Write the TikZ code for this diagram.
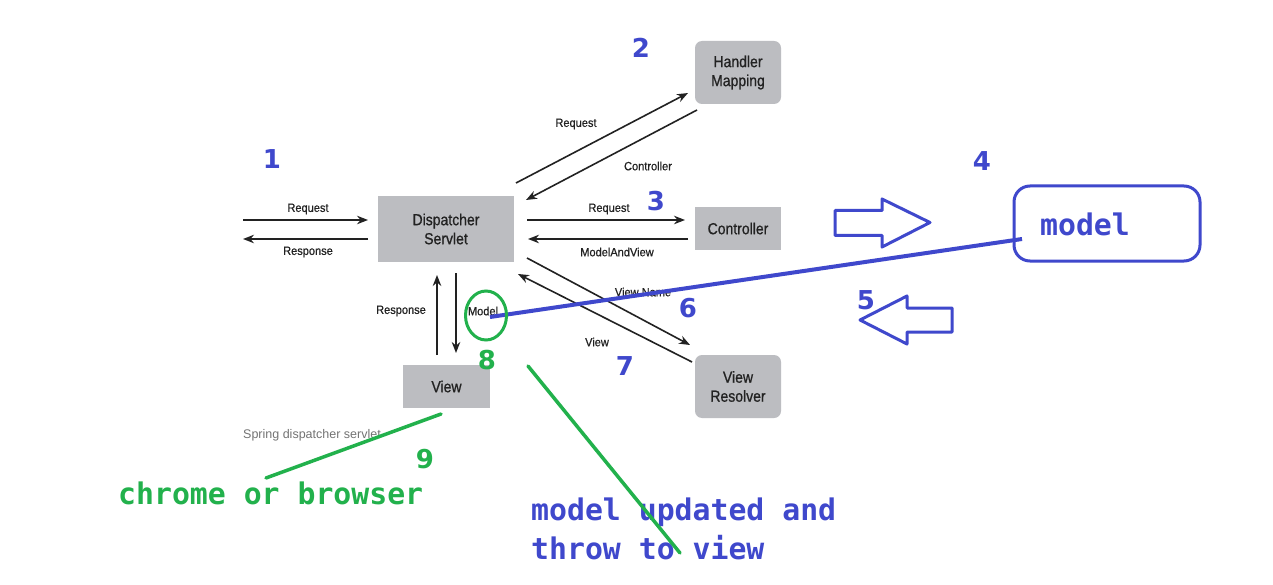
\documentclass[tikz,border=0pt]{standalone}
\usepackage{fontspec}
\setmainfont{Liberation Sans}
\newfontfamily\monof{DejaVu Sans Mono}
\newfontfamily\numf{DejaVu Sans}
\newfontfamily\boxf{Liberation Sans}[FakeStretch=0.875, FakeBold=0.8]
\newfontfamily\lblf{Liberation Sans}[FakeStretch=0.92, FakeBold=0.6]
\usetikzlibrary{arrows.meta,shapes.geometric}
\definecolor{boxgray}{HTML}{BCBDC1}
\definecolor{pblue}{HTML}{3F48CC}
\definecolor{pgreen}{HTML}{22B14C}
\definecolor{txtdark}{HTML}{222222}
\begin{document}
\begin{tikzpicture}[x=1pt,y=-1pt,
  box/.style={fill=boxgray, inner sep=0pt, align=center, text=txtdark,
    font=\boxf\fontsize{16}{19}\selectfont},
  rbox/.style={box, rounded corners=7pt},
  lbl/.style={inner sep=0pt, text=txtdark, font=\lblf\fontsize{12}{14}\selectfont},
  arr/.style={-{Stealth[length=11pt,width=8.5pt]}, line width=1.6pt, txtdark},
  num/.style={inner sep=0pt, text=pblue, font=\numf\bfseries\fontsize{26}{28}\selectfont},
  gnum/.style={num, text=pgreen},
  mono/.style={inner sep=0pt, anchor=west, font=\monof\bfseries\fontsize{29.8}{34}\selectfont},
  bline/.style={draw=pblue, line width=3pt, line join=round},
  gline/.style={draw=pgreen, line width=3.5pt, line cap=round}
]
\useasboundingbox[fill=white] (0,0) rectangle (1273,585);

% boxes
\node[rbox, minimum width=86pt, minimum height=63pt] (hm) at (738,72.5) {Handler\\Mapping};
\node[box, minimum width=136pt, minimum height=66pt] (ds) at (446,229) {Dispatcher\\Servlet};
\node[box, minimum width=86pt, minimum height=43pt] (ctl) at (738,228.5) {Controller};
\node[rbox, minimum width=86pt, minimum height=63pt] (vr) at (738,386.5) {View\\Resolver};
\node[box, minimum width=87pt, minimum height=43pt] (vw) at (446.5,386.5) {View};

% end points of connectors
\coordinate (cin) at (243,220);
\coordinate (cout) at (243,239);
\coordinate (ds-in) at (368,220);
\coordinate (ds-out) at (368,239);
\coordinate (ds-hm1) at (516,183);
\coordinate (hm-1) at (688,93);
\coordinate (hm-2) at (697,110);
\coordinate (ds-hm2) at (526,200);
\coordinate (ds-c1) at (527,220);
\coordinate (c-1) at (685,220);
\coordinate (c-2) at (688,239);
\coordinate (ds-c2) at (528,239);
\coordinate (ds-v1) at (527,258);
\coordinate (vr-1) at (690,345);
\coordinate (vr-2) at (692,362);
\coordinate (ds-v2) at (518,274);
\coordinate (vw-1) at (437,355);
\coordinate (ds-r) at (437,275);
\coordinate (ds-m) at (456,273);
\coordinate (vw-2) at (456,353);

% connectors
\draw[arr] (cin) -- (ds-in);
\draw[arr] (ds-out) -- (cout);
\draw[arr] (ds-hm1) -- (hm-1);
\draw[arr] (hm-2) -- (ds-hm2);
\draw[arr] (ds-c1) -- (c-1);
\draw[arr] (c-2) -- (ds-c2);
\draw[arr] (ds-v1) -- (vr-1);
\draw[arr] (vr-2) -- (ds-v2);
\draw[arr] (vw-1) -- (ds-r);
\draw[arr] (ds-m) -- (vw-2);

% labels
\node[lbl] (l1) at (308,209) {Request};
\node[lbl] (l2) at (308,252) {Response};
\node[lbl] (l3) at (576,124) {Request};
\node[lbl] (l4) at (648,166) {Controller};
\node[lbl] (l5) at (609,209) {Request};
\node[lbl] (l6) at (617,252) {ModelAndView};
\node[lbl] (l7) at (643,292) {View Name};
\node[lbl] (l8) at (597,342) {View};
\node[lbl] (l9) at (401,311) {Response};
\node[lbl] (l10) at (483,311) {Model};
\node[inner sep=0pt, anchor=west, text=black!55, font=\fontsize{12.5}{14}\selectfont] (cap) at (243,435) {Spring dispatcher servlet};

% blue annotations
\node[num] (n1) at (272,159) {1};
\node[num] (n2) at (641,48) {2};
\node[num] (n3) at (656,201) {3};
\node[num] (n4) at (982,161) {4};
\node[num] (n5) at (866,300) {5};
\node[num] (n6) at (688,308) {6};
\node[num] (n7) at (625,366) {7};

\node[draw=pblue, line width=3pt, rounded corners=16pt, minimum width=186pt, minimum height=75pt, inner sep=0pt] (mbox) at (1107,223.5) {};
\node[mono, text=pblue, anchor=center] (mtxt) at (1085,224) {model};

\draw[bline] (835,210.5) -- (882,210.5) -- (882,199) -- (930,222.5) -- (882,247) -- (882,235.5) -- (835,235.5) -- cycle;
\draw[bline] (860,320) -- (907,296) -- (907,308) -- (952,308) -- (952,332) -- (907,332) -- (907,344) -- cycle;

\coordinate (mstart) at (490,317);
\coordinate (mend) at (1022,239);
\draw[draw=pblue, line width=4pt] (mstart) -- (mend);

\node[mono, text=pblue] (t1) at (531,512) {model updated and};
\node[mono, text=pblue] (t2) at (531,548) {throw to view};

% green annotations
\node[draw=pgreen, line width=3pt, ellipse, minimum width=41pt, minimum height=49pt, inner sep=0pt] (ell) at (486,315.5) {};
\node[gnum] (n8) at (487,360) {8};
\node[gnum] (n9) at (425,459) {9};
\coordinate (g1a) at (441,414);
\coordinate (g1b) at (266,478);
\coordinate (g2a) at (528,366);
\coordinate (g2b) at (680,553);
\draw[gline] (g1a) -- (g1b);
\draw[gline] (g2a) -- (g2b);
\node[mono, text=pgreen] (t3) at (118,493) {chrome or browser};
\end{tikzpicture}
\end{document}
